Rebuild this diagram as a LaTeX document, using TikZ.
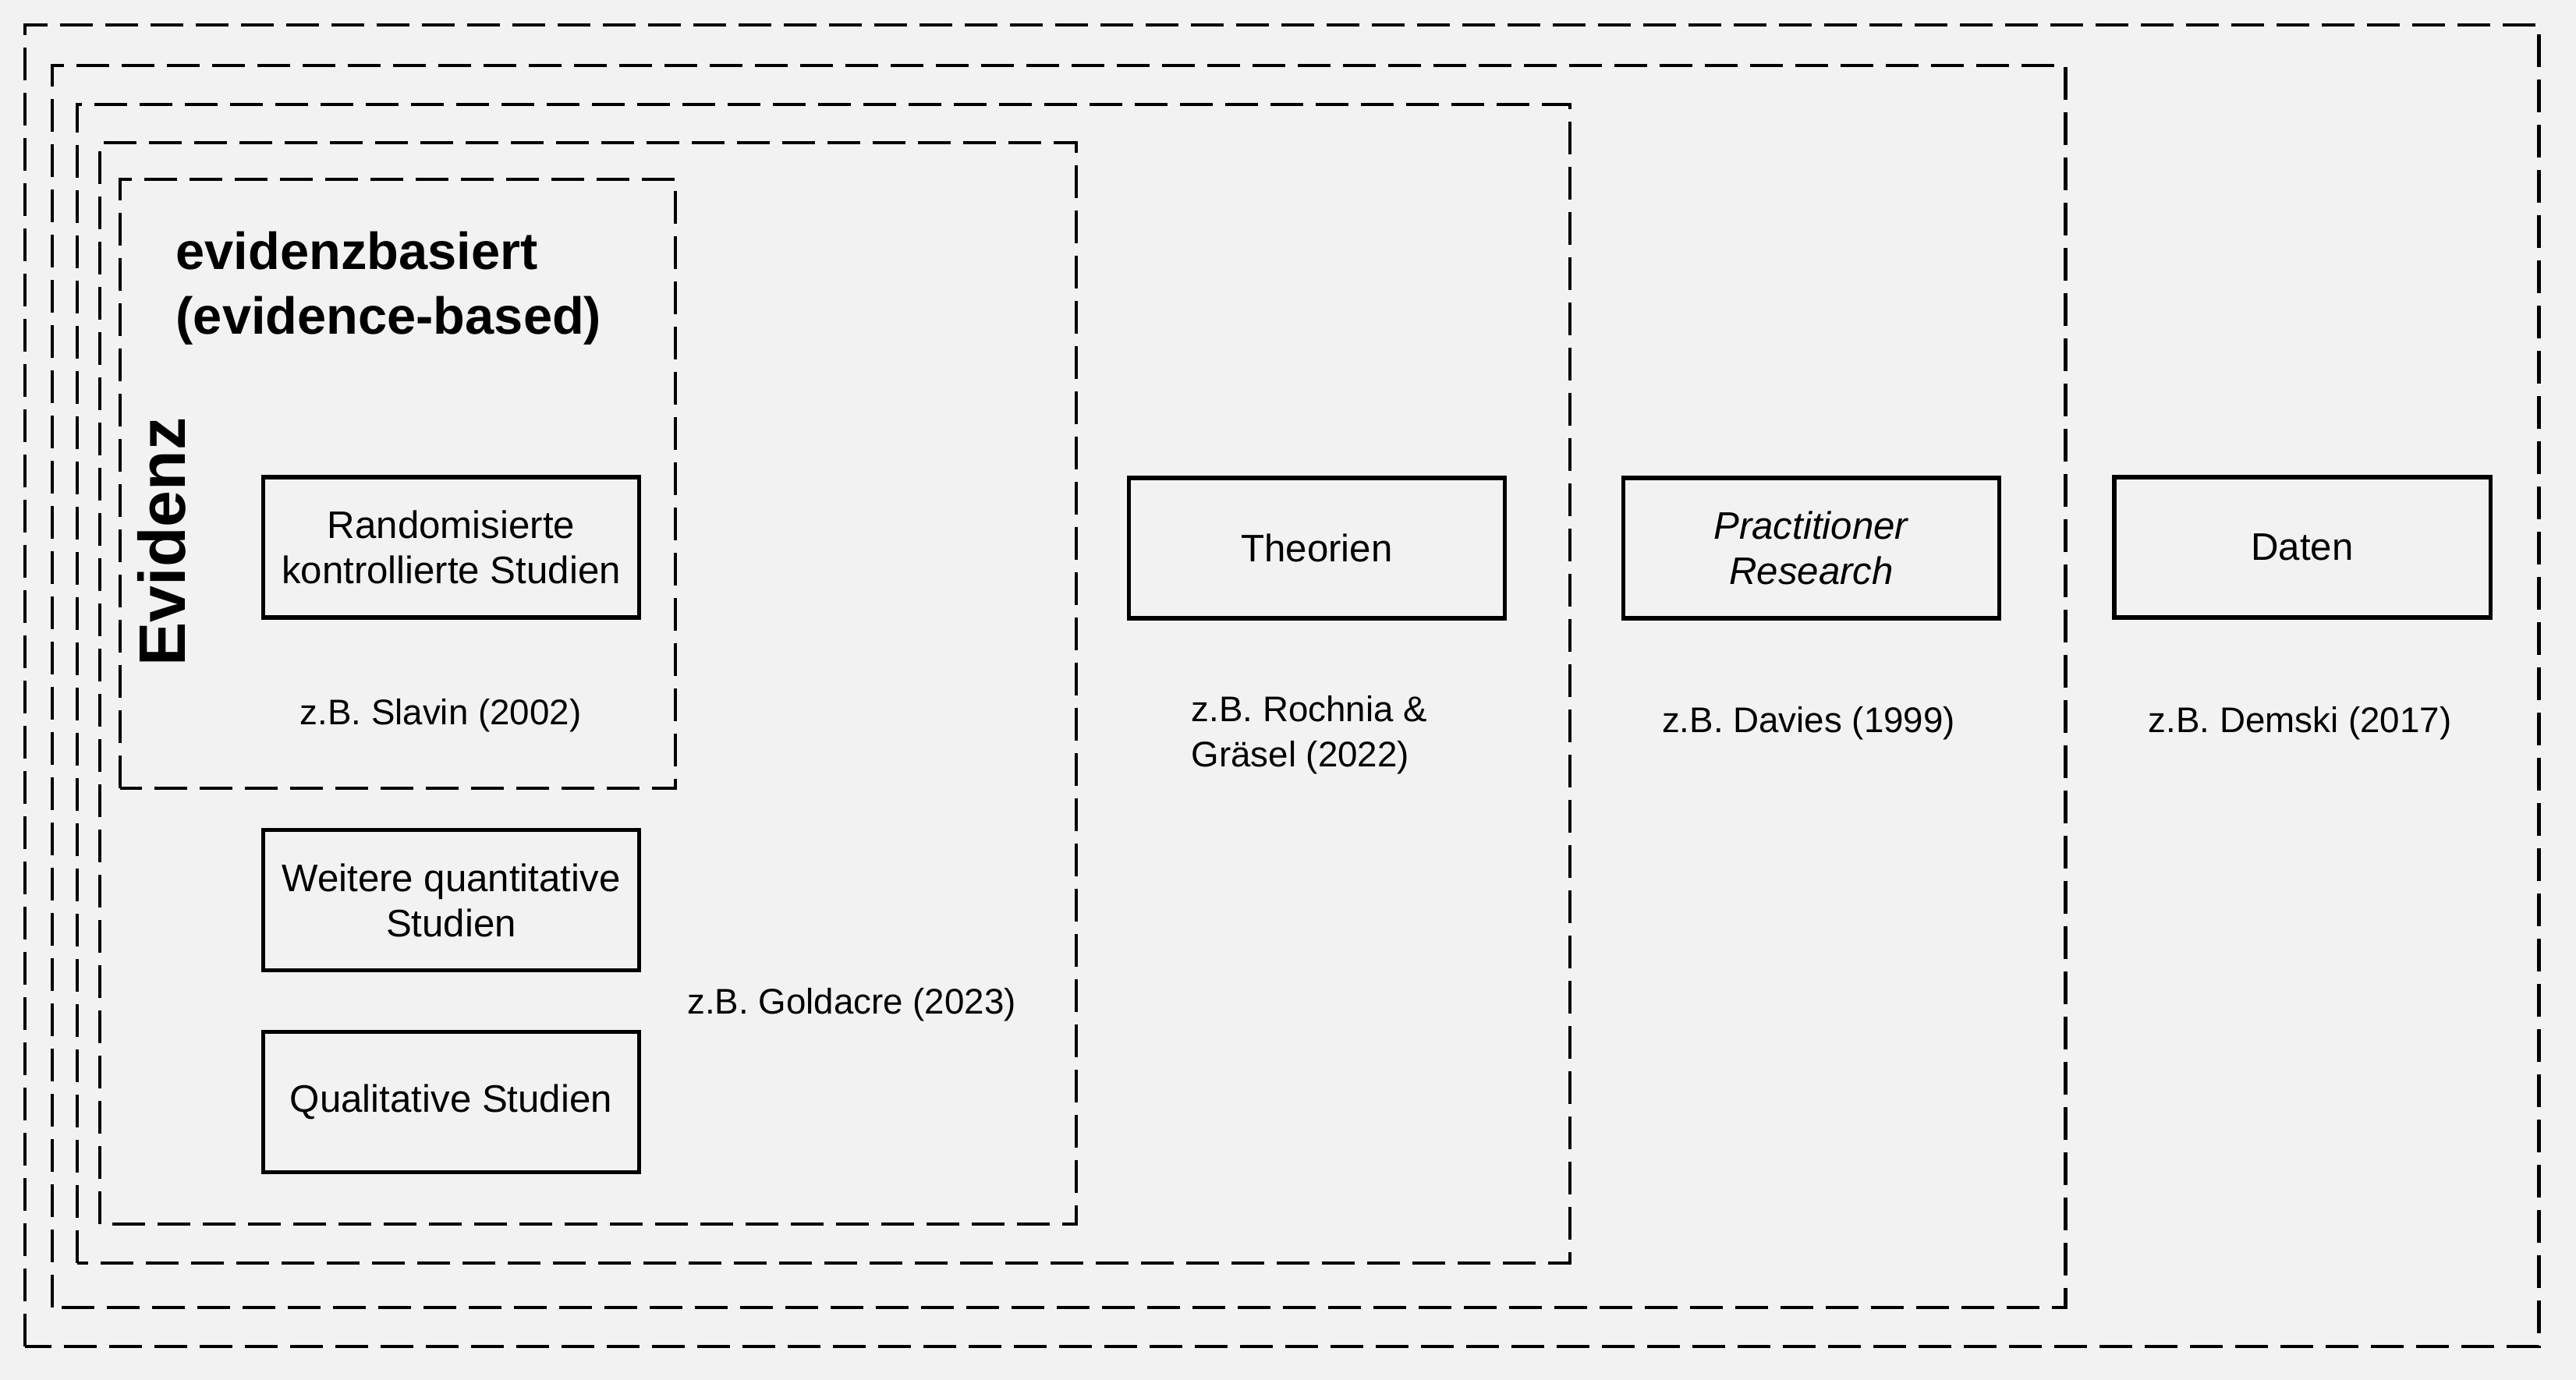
\documentclass[tikz,border=0pt]{standalone}
\usepackage{fontspec}
\setmainfont{Liberation Sans}
\definecolor{bggrey}{HTML}{F2F2F2}
\tikzset{dashbox/.style={draw=black, line width=1.4pt, dash pattern=on 4.2mm off 1.6mm}}
\tikzset{studybox/.style={draw=black, line width=1.45pt, minimum width=4.82cm, minimum height=1.8cm, align=center, inner sep=0pt, font=\fontsize{14}{16.5}\selectfont}}
\tikzset{reflabel/.style={align=center, inner sep=0pt, font=\fontsize{13}{16.5}\selectfont}}

\begin{document}
\begin{tikzpicture}
\fill[bggrey] (0,0) rectangle (33.03,17.70);
\useasboundingbox (0,0) rectangle (33.03,17.70);

%dashed frames
\draw[dashbox] (0.32,0.43) rectangle (32.55,17.38);   %Daten
\draw[dashbox] (0.67,0.93) rectangle (26.48,16.86);   %Practitioner
\draw[dashbox] (0.99,1.50) rectangle (20.13,16.36);   %Theorien
\draw[dashbox] (1.28,2.00) rectangle (13.80,15.87);   %Evidenz
\draw[dashbox] (1.54,7.59) rectangle (8.66,15.40);    %evidenzbasiert

%boxes
\node[studybox] (rct)   at (5.785,10.68) {Randomisierte\\kontrollierte Studien};
\node[studybox] (wqs)   at (5.785,6.155) {Weitere quantitative\\Studien};
\node[studybox] (qual)  at (5.785,3.565) {Qualitative Studien};
\node[studybox] (theo)  at (16.885,10.67) {Theorien};
\node[studybox] (prac)  at (23.225,10.67) {\textit{Practitioner}\\\textit{Research}};
\node[studybox] (daten) at (29.52,10.68) {Daten};

%labels
\node[anchor=west, align=left, inner sep=0pt, font=\fontsize{19}{23.5}\selectfont\bfseries] (ebhead) at (2.25,14.00) {evidenzbasiert\\(evidence-based)};
\node[rotate=90, inner sep=0pt, font=\fontsize{24}{28}\selectfont\bfseries] (evid) at (2.07,10.75) {Evidenz};
%
\node[reflabel] (slavin)   at (5.65,8.52)  {z.B. Slavin (2002)};
\node[reflabel] (goldacre) at (10.92,4.81) {z.B. Goldacre (2023)};
\node[reflabel, anchor=west, align=left] (rochnia) at (15.27,8.27) {z.B. Rochnia \&\\Gräsel (2022)};
\node[reflabel] (davies)   at (23.19,8.42) {z.B. Davies (1999)};
\node[reflabel] (demski)   at (29.49,8.42) {z.B. Demski (2017)};
\end{tikzpicture}
\end{document}
